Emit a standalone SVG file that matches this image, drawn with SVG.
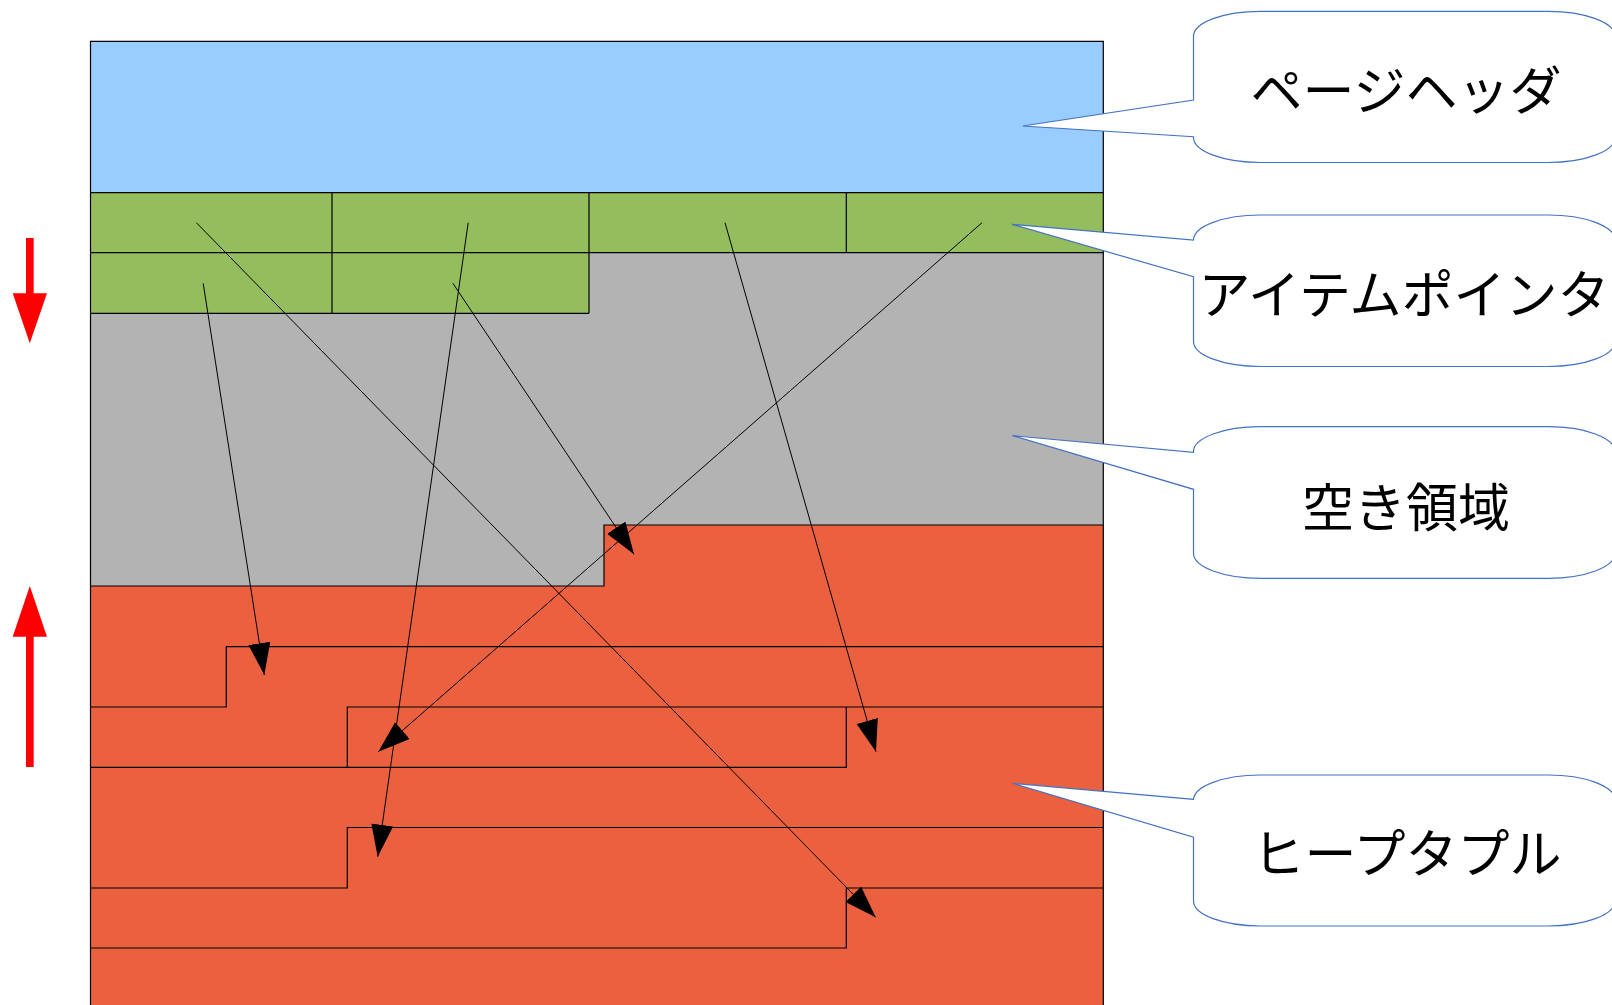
<svg xmlns="http://www.w3.org/2000/svg" width="1612" height="1005" viewBox="0 0 1612 1005">
  <style>
    .edge { fill: none; stroke: #000; stroke-width: 1.2; }
    .ptr { fill: none; stroke: #000; stroke-width: 1; marker-end: url(#head); }
    .callout { fill: #fff; stroke: #4472C4; stroke-width: 1.2; }
    .label { font-family: "Noto Sans CJK JP", "Noto Sans", sans-serif; font-size: 52px; fill: #000; text-anchor: middle; dominant-baseline: central; }
    .growth { fill: #FF0000; }
  </style>
  <defs>
    <marker id="head" markerUnits="userSpaceOnUse" markerWidth="33" markerHeight="23" refX="32" refY="11" orient="auto">
      <path d="M0,0 L32,11 L0,22 Z" fill="#000"/>
    </marker>
  </defs>

  <!-- page body -->
  <g id="page">
    <rect x="90.5" y="41.3" width="1012.8" height="980" fill="#B3B3B3"/>
    <polygon points="90.5,586 604,586 604,525 1103.3,525 1103.3,1010 90.5,1010" fill="#EB613F"/>
  </g>

  <g id="page-header">
    <rect x="90.5" y="41.3" width="1012.8" height="151.4" fill="#99CCFF"/>
  </g>

  <g id="item-pointers">
    <rect x="90.5" y="192.7" width="1012.8" height="60" fill="#94BD5E"/>
    <rect x="90.5" y="252.7" width="498.5" height="60.6" fill="#94BD5E"/>
    <path class="edge" d="M90.5,192.7 H1103.3 M90.5,252.7 H1103.3 M90.5,313.3 H589 M332,192.7 V313.3 M589,192.7 V313.3 M846.3,192.7 V252.7"/>
  </g>

  <g id="heap-tuples">
    <path class="edge" d="M90.5,586 H604 V525 H1103.3"/>
    <path class="edge" d="M1103.3,646.6 H226.3 V707 H90.5"/>
    <path class="edge" d="M1103.3,707 H347.3 V767.3"/>
    <path class="edge" d="M90.5,767.3 H846.3 V707"/>
    <path class="edge" d="M1103.3,827.5 H347.3 V888 H90.5"/>
    <path class="edge" d="M1103.3,888 H846.3 V948 H90.5"/>
  </g>

  <!-- page outline -->
  <path class="edge" d="M90.5,1010 V41.3 H1103.3 V1010"/>

  <!-- item pointers to tuples -->
  <g id="connectors">
    <line class="ptr" x1="196.4" y1="222.7" x2="875.7" y2="917.3"/>
    <line class="ptr" x1="468.2" y1="222.7" x2="377.7" y2="856.7"/>
    <line class="ptr" x1="725" y1="222.7" x2="876" y2="751.7"/>
    <line class="ptr" x1="982" y1="222.7" x2="378.3" y2="751.7"/>
    <line class="ptr" x1="203.2" y1="283.3" x2="264.3" y2="675"/>
    <line class="ptr" x1="452.9" y1="283.3" x2="634" y2="554.3"/>
  </g>

  <!-- growth direction arrows -->
  <g id="growth-down">
    <rect class="growth" x="26" y="238" width="7.7" height="56"/>
    <polygon class="growth" points="12.7,293.2 47,293.2 29.8,343.2"/>
  </g>
  <g id="growth-up">
    <rect class="growth" x="26" y="636" width="7.7" height="131"/>
    <polygon class="growth" points="12.7,636.8 47,636.8 29.8,586"/>
  </g>

  <!-- callouts -->
  <g id="callout-header">
    <path class="callout" d="M1260.5,11.3 H1548 A67,25 0 0 1 1615,36.3 V137.5 A67,25 0 0 1 1548,162.5 H1260.5 A67,25 0 0 1 1193.5,137.5 V136.7 L1022.7,126 L1193.5,100 V36.3 A67,25 0 0 1 1260.5,11.3 Z"/>
    <text class="label" x="1406" y="87">ページヘッダ</text>
  </g>
  <g id="callout-pointers">
    <path class="callout" d="M1260.5,215 H1548 A67,25 0 0 1 1615,240 V341.5 A67,25 0 0 1 1548,366.5 H1260.5 A67,25 0 0 1 1193.5,341.5 V276.7 L1012,224.3 L1193.5,240 A67,25 0 0 1 1260.5,215 Z"/>
    <text class="label" x="1404" y="291">アイテムポインタ</text>
  </g>
  <g id="callout-free">
    <path class="callout" d="M1260.5,426.7 H1548 A67,25 0 0 1 1615,451.7 V553.3 A67,25 0 0 1 1548,578.3 H1260.5 A67,25 0 0 1 1193.5,553.3 V489.3 L1012.5,435.7 L1193.5,452.3 V451.7 A67,25 0 0 1 1260.5,426.7 Z"/>
    <text class="label" x="1406" y="504">空き領域</text>
  </g>
  <g id="callout-tuples">
    <path class="callout" d="M1260.5,775 H1548 A67,25 0 0 1 1615,800 V901 A67,25 0 0 1 1548,926 H1260.5 A67,25 0 0 1 1193.5,901 V837.3 L1012.5,783.3 L1193.5,799.3 V800 A67,25 0 0 1 1260.5,775 Z"/>
    <text class="label" x="1407" y="850.5">ヒープタプル</text>
  </g>
</svg>
